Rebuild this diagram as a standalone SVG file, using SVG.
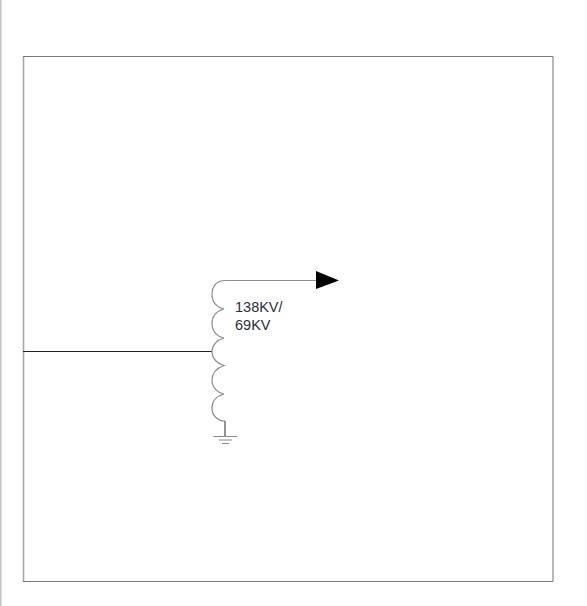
<svg xmlns="http://www.w3.org/2000/svg" width="587" height="606" viewBox="0 0 587 606">
<style>
.w{fill:none;stroke:#8c8c8c;stroke-width:1.2}
.k{fill:none;stroke:#222;stroke-width:1}
.t{font-family:"Liberation Sans",Arial,sans-serif;font-size:14.5px;fill:#2a2f3a}
</style>
<rect width="587" height="606" fill="#fff"/>
<rect x="0" y="0" width="1.5" height="606" fill="#c4c4c4"/>
<g id="frame">
<path d="M23.5 56.5V581.5" fill="none" stroke="#a8a8a8" stroke-width="1.6"/>
<path d="M553 56.5V581.5" fill="none" stroke="#a8a8a8" stroke-width="1.6"/>
<path d="M23 56.5H553" fill="none" stroke="#777" stroke-width="1"/>
<path d="M23 581.5H553" fill="none" stroke="#777" stroke-width="1"/>
</g>
<g id="connectors">
<path id="feed" class="k" d="M23 351.5H212"/>
<path id="output" class="w" d="M225 280.5H318"/>
<path id="ground-lead" class="w" d="M225 421V436" style="stroke:#666;stroke-width:1.4"/>
</g>
<g id="transformer">
<path class="w" d="M225 280.5C216 280.5 212 287 212 294.5C212 303 218 308 224 309C217 311 212 316 212 323.5C212 332 218 337 224 338C217 340 212 345 212 351.5C212 359 218 364 224 365.5C217 368 212 373 212 380C212 388 218 393 224 394C217 396 212 401 212 408C212 416 218 421 225 421"/>
</g>
<g id="arrow">
<polygon points="316,271 339,280.5 316,289" fill="#000"/>
</g>
<g id="ground">
<path class="w" d="M213.5 436.5H237M219 440H232M222 443.5H229"/>
</g>
<g id="label">
<text class="t" x="235" y="311.5">138KV/</text>
<text class="t" x="235" y="329.5">69KV</text>
</g>
</svg>
